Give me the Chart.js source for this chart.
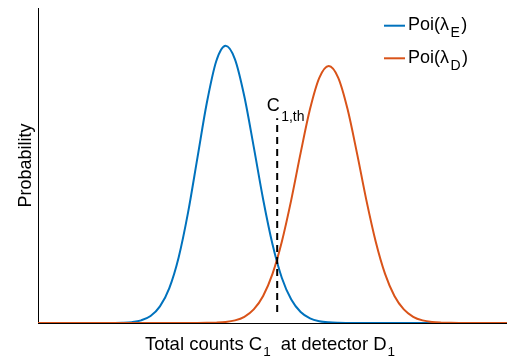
<!DOCTYPE html>
<html>
<head>
<meta charset="utf-8">
<script src="https://cdn.jsdelivr.net/npm/chart.js@4"></script>
<style>
  html, body { margin: 0; padding: 0; background: #fff; }
  #wrap { position: relative; width: 507px; height: 361px; }
</style>
</head>
<body>
<div id="wrap"><canvas id="poiChart"></canvas></div>
<script>
(function () {
  "use strict";

  // ── data (arbitrary count units, 0..100) ──
  var COUNTS = [0, 2, 4, 6, 8, 10, 12, 14, 16, 18, 20, 22, 24, 26, 28, 30, 32, 34, 36, 38, 40,
    42, 44, 46, 48, 50, 52, 54, 56, 58, 60, 62, 64, 66, 68, 70, 72, 74, 76, 78, 80,
    82, 84, 86, 88, 90, 92, 94, 96, 98, 100];

  // Poi(lambda_E)
  var POI_E = [0, 0, 0, 0, 0, 0, 0, 0, 0.0002, 0.0008, 0.0028, 0.0084, 0.0222, 0.0527, 0.111, 0.209, 0.351,
    0.525, 0.699, 0.831, 0.880, 0.837, 0.719, 0.559, 0.393, 0.250, 0.143, 0.0746, 0.0350, 0.0148,
    0.0057, 0.0020, 0.0006, 0.0002, 0.0001, 0, 0, 0, 0, 0, 0, 0, 0, 0, 0, 0, 0, 0, 0, 0, 0];

  // Poi(lambda_D)
  var POI_D = [0, 0, 0, 0, 0, 0, 0, 0, 0, 0, 0, 0, 0, 0, 0, 0, 0, 0.0001, 0.0004, 0.0011, 0.0031,
    0.0083, 0.0198, 0.0432, 0.0860, 0.156, 0.259, 0.391, 0.540, 0.679, 0.779, 0.816, 0.779,
    0.679, 0.540, 0.391, 0.259, 0.156, 0.0860, 0.0432, 0.0198, 0.0083, 0.0031, 0.0011, 0.0004,
    0.0001, 0, 0, 0, 0, 0];

  var THRESHOLD = 51;            // C_1,th
  var THRESHOLD_SPAN = [0.035, 0.65];

  var BLUE = "#0072BD";
  var ORANGE = "#D95319";
  var INK = "#000000";
  var FONT = "'Liberation Sans', Arial, Helvetica, sans-serif";

  function toPoints(xs, ys) {
    return xs.map(function (x, i) { return { x: x, y: ys[i] }; });
  }

  // ── text with subscripts ─────────────────────────────────
  // parts: [text, isSub, gapAfter]
  function richWidth(ctx, parts, size, subSize) {
    var w = 0;
    parts.forEach(function (p) {
      ctx.font = (p[1] ? subSize : size) + "px " + FONT;
      w += ctx.measureText(p[0]).width + (p[2] || 0);
    });
    return w;
  }

  function drawRich(ctx, parts, x, y, size, subSize, drop) {
    ctx.textAlign = "left";
    ctx.textBaseline = "alphabetic";
    parts.forEach(function (p) {
      ctx.font = (p[1] ? subSize : size) + "px " + FONT;
      ctx.fillText(p[0], x, p[1] ? y + drop : y);
      x += ctx.measureText(p[0]).width + (p[2] || 0);
    });
  }

  var labelsPlugin = {
    id: "poiLabels",
    afterDraw: function (chart) {
      var ctx = chart.ctx;
      var area = chart.chartArea;
      var sx = chart.scales.x;
      var sy = chart.scales.y;
      ctx.save();
      ctx.fillStyle = INK;

      // y title
      ctx.save();
      ctx.translate(31, (area.top + area.bottom) / 2);
      ctx.rotate(-Math.PI / 2);
      ctx.font = "18px " + FONT;
      ctx.textAlign = "center";
      ctx.textBaseline = "alphabetic";
      ctx.fillText("Probability", 0, 0);
      ctx.restore();

      // x title
      var xParts = [["Total counts C", 0, 1], ["1", 1, 10], ["at detector D", 0, 1], ["1", 1, 0]];
      var xw = richWidth(ctx, xParts, 18.5, 13.5);
      drawRich(ctx, xParts, 270 - xw / 2, 349.5, 18.5, 13.5, 6);

      // threshold label
      var tx = sx.getPixelForValue(THRESHOLD);
      var ty = sy.getPixelForValue(THRESHOLD_SPAN[1]);
      drawRich(ctx, [["C", 0, 1.5], ["1,th", 1, 0]], tx - 10.5, ty - 7.5, 18, 14, 10);

      // legend
      var items = [
        { color: BLUE, sub: "E", y: 25.7 },
        { color: ORANGE, sub: "D", y: 58.3 }
      ];
      items.forEach(function (it) {
        ctx.strokeStyle = it.color;
        ctx.lineWidth = 2;
        ctx.beginPath();
        ctx.moveTo(area.right - 123, it.y);
        ctx.lineTo(area.right - 102, it.y);
        ctx.stroke();
        drawRich(ctx, [["Poi(\u03bb", 0, 1.5], [it.sub, 1, 1.5], [")", 0, 0]],
          area.right - 99, it.y + 4.5, 18, 14, 7);
      });
      ctx.restore();
    }
  };

  function curve(data, color) {
    return {
      data: toPoints(COUNTS, data),
      borderColor: color,
      borderWidth: 2,
      pointRadius: 0,
      cubicInterpolationMode: "monotone",
      fill: false
    };
  }

  document.addEventListener("DOMContentLoaded", function () {
    var canvas = document.getElementById("poiChart");
    new Chart(canvas.getContext("2d"), {
      type: "line",
      data: {
        datasets: [
          {
            // threshold C_1,th (drawn on top)
            data: [{ x: THRESHOLD, y: THRESHOLD_SPAN[0] }, { x: THRESHOLD, y: THRESHOLD_SPAN[1] }],
            borderColor: INK,
            borderWidth: 2,
            borderDash: [7, 5],
            pointRadius: 0,
            fill: false
          },
          curve(POI_D, ORANGE),
          curve(POI_E, BLUE)
        ]
      },
      options: {
        responsive: true,
        maintainAspectRatio: false,
        animation: false,
        events: [],
        layout: { padding: { top: 8, left: 38, right: 0, bottom: 38 } },
        plugins: {
          legend: { display: false },
          tooltip: { enabled: false }
        },
        scales: {
          x: {
            type: "linear",
            min: 0,
            max: 100,
            ticks: { display: false },
            grid: { display: false, drawTicks: false },
            border: { display: true, color: INK, width: 1 },
            afterFit: function (s) { s.height = 0; }
          },
          y: {
            type: "linear",
            min: 0,
            max: 1,
            ticks: { display: false },
            grid: { display: false, drawTicks: false },
            border: { display: true, color: INK, width: 1 },
            afterFit: function (s) { s.width = 0; }
          }
        }
      },
      plugins: [labelsPlugin]
    });
  });
})();
</script>
</body>
</html>
